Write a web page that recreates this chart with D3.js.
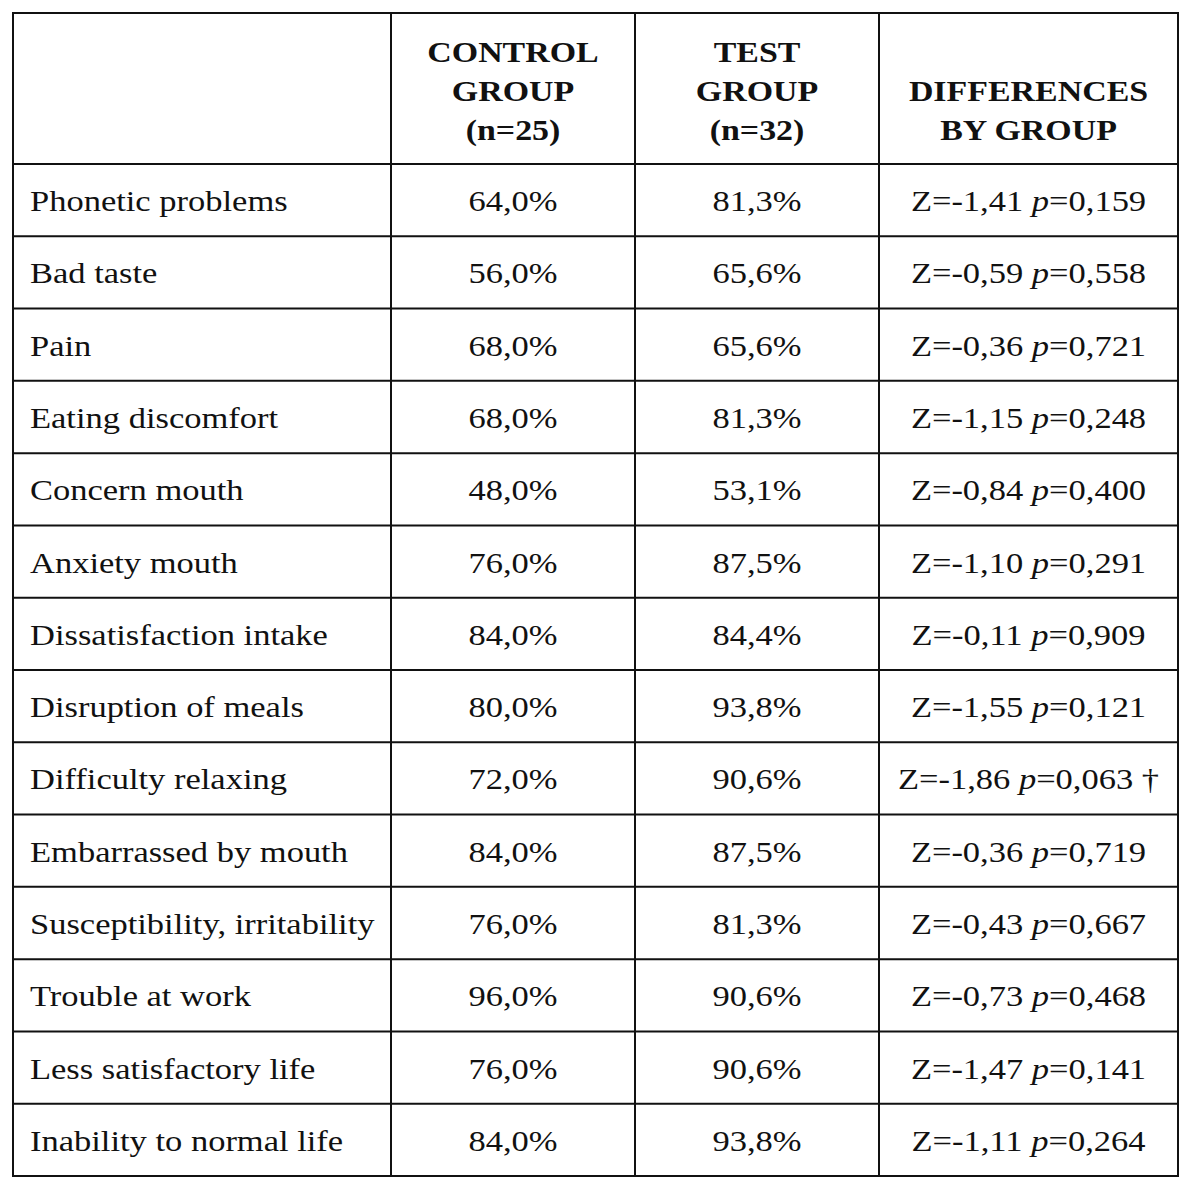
<!DOCTYPE html>
<html lang="en">
<head>
    <meta charset="UTF-8">
    <title>Oral health impact by group</title>
    <script src="https://d3js.org/d3.v7.min.js"></script>
    <style>
        body {
            margin: 0;
            background-color: #fff;
        }
        svg text {
            font-family: "Liberation Serif", "Times New Roman", serif;
            fill: #111;
        }
        .cell-text {
            font-size: 30px;
        }
        .head-text {
            font-size: 29.5px;
            font-weight: bold;
            text-anchor: middle;
        }
        .grid {
            stroke: #111;
            stroke-width: 2px;
            fill: none;
        }
    </style>
</head>
<body>
    <svg id="table" width="1200" height="1188"></svg>
    <script>
        // Table data
        const items = [
            "Phonetic problems", "Bad taste", "Pain", "Eating discomfort",
            "Concern mouth", "Anxiety mouth", "Dissatisfaction intake",
            "Disruption of meals", "Difficulty relaxing", "Embarrassed by mouth",
            "Susceptibility, irritability", "Trouble at work",
            "Less satisfactory life", "Inability to normal life"
        ];
        const control = [64.0, 56.0, 68.0, 68.0, 48.0, 76.0, 84.0, 80.0, 72.0, 84.0, 76.0, 96.0, 76.0, 84.0];
        const test = [81.3, 65.6, 65.6, 81.3, 53.1, 87.5, 84.4, 93.8, 90.6, 87.5, 81.3, 90.6, 90.6, 93.8];
        const zValues = [-1.41, -0.59, -0.36, -1.15, -0.84, -1.10, -0.11, -1.55, -1.86, -0.36, -0.43, -0.73, -1.47, -1.11];
        const pValues = [0.159, 0.558, 0.721, 0.248, 0.400, 0.291, 0.909, 0.121, 0.063, 0.719, 0.667, 0.468, 0.141, 0.264];
        const marks = ["", "", "", "", "", "", "", "", "\u2020", "", "", "", "", ""];
        const headers = [
            [],
            ["CONTROL", "GROUP", "(n=25)"],
            ["TEST", "GROUP", "(n=32)"],
            ["DIFFERENCES", "BY GROUP"]
        ];

        const svg = d3.select("#table");

        // Layout
        const tLeft = 13, tRight = 1178, tTop = 13, headBottom = 164, tBottom = 1176;
        const colEdges = [tLeft, 391, 635, 879, tRight];
        const stretch = 1.15; // source image is a bit wider than the font

        const y = d3.scaleBand()
            .domain(d3.range(items.length))
            .range([headBottom, tBottom]);

        const comma = (v, digits) => v.toFixed(digits).replace(".", ",");
        const place = (x, yy) => `translate(${x},${yy}) scale(${stretch},1)`;

        // Grid lines
        const grid = svg.append("g");
        grid.append("rect").attr("class", "grid")
            .attr("x", tLeft).attr("y", tTop)
            .attr("width", tRight - tLeft).attr("height", tBottom - tTop);
        grid.selectAll("line.v")
            .data(colEdges.slice(1, -1))
            .enter().append("line").attr("class", "grid")
            .attr("x1", d => d).attr("x2", d => d)
            .attr("y1", tTop).attr("y2", tBottom);
        grid.selectAll("line.h")
            .data(d3.range(items.length))
            .enter().append("line").attr("class", "grid")
            .attr("x1", tLeft).attr("x2", tRight)
            .attr("y1", d => y(d)).attr("y2", d => y(d));

        // Header (lines sit on the bottom, last baseline near 139)
        const colCenter = i => (colEdges[i] + colEdges[i + 1]) / 2;
        const lineGap = 38.8;
        const lastBase = 139.5;
        headers.forEach((lines, i) => {
            lines.forEach((t, k) => {
                svg.append("text")
                    .attr("class", "head-text")
                    .attr("transform", place(colCenter(i), lastBase - (lines.length - 1 - k) * lineGap))
                    .text(t);
            });
        });

        // Body rows
        const rows = svg.append("g").selectAll("g")
            .data(d3.range(items.length))
            .enter().append("g")
            .attr("transform", d => `translate(0,${y(d) + y.bandwidth() / 2 + 11})`);

        rows.append("text").attr("class", "cell-text")
            .attr("transform", place(30, 0))
            .text(d => items[d]);

        rows.append("text").attr("class", "cell-text")
            .attr("transform", place(colCenter(1), 0)).attr("text-anchor", "middle")
            .text(d => comma(control[d], 1) + "%");

        rows.append("text").attr("class", "cell-text")
            .attr("transform", place(colCenter(2), 0)).attr("text-anchor", "middle")
            .text(d => comma(test[d], 1) + "%");

        const diff = rows.append("text").attr("class", "cell-text")
            .attr("transform", place(colCenter(3), 0)).attr("text-anchor", "middle");
        diff.append("tspan").text(d => "Z=" + comma(zValues[d], 2) + " ");
        diff.append("tspan").attr("font-style", "italic").text("p");
        diff.append("tspan").text(d => "=" + comma(pValues[d], 3) + (marks[d] ? " " + marks[d] : ""));
    </script>
</body>
</html>
